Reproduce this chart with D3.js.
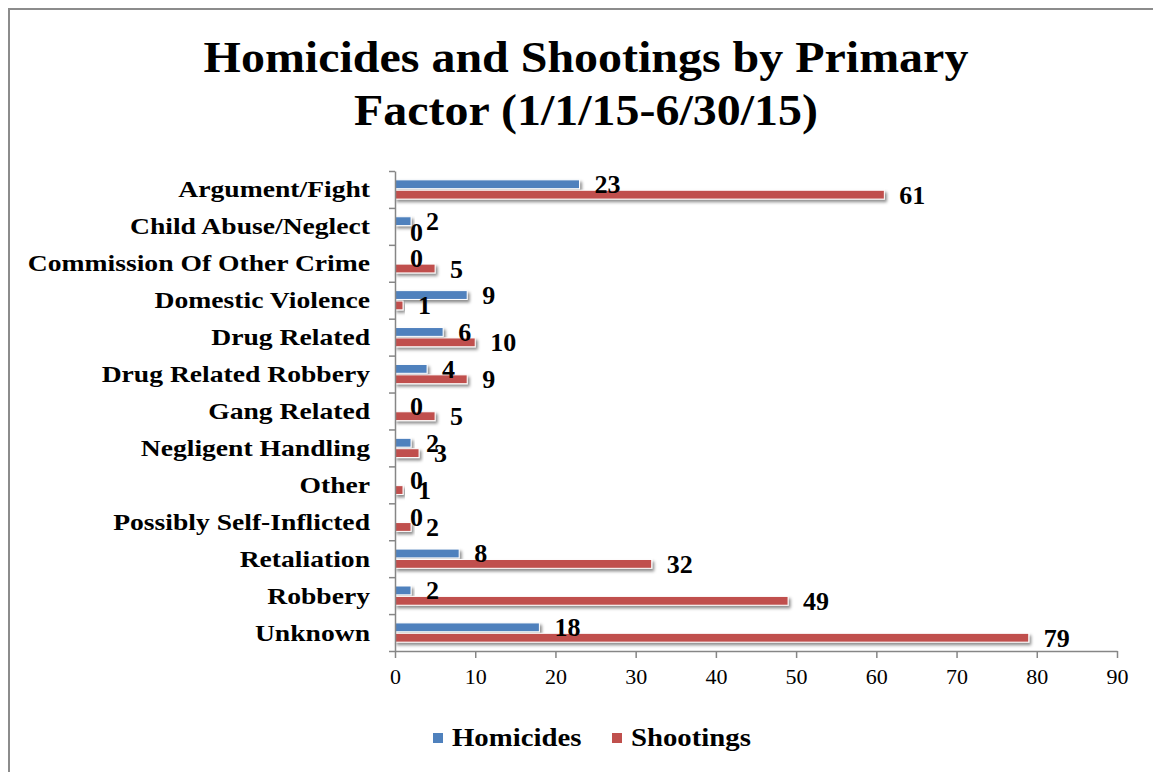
<!DOCTYPE html>
<html>
<head>
<meta charset="utf-8">
<script src="https://cdn.jsdelivr.net/npm/d3@7"></script>
<style>
  body { margin: 0; background: #fff; }
  svg text { font-family: 'Liberation Serif', 'DejaVu Serif', serif; }
</style>
</head>
<body>
<svg width="1153" height="772"></svg>
<script>
const categories = [
    'Argument/Fight', 'Child Abuse/Neglect', 'Commission Of Other Crime',
    'Domestic Violence', 'Drug Related', 'Drug Related Robbery', 'Gang Related',
    'Negligent Handling', 'Other', 'Possibly Self-Inflicted', 'Retaliation',
    'Robbery', 'Unknown'
];
const series = ['Homicides', 'Shootings'];
const homicides = [23, 2, 0, 9, 6, 4, 0, 2, 0, 0, 8, 2, 18];
const shootings = [61, 0, 5, 1, 10, 9, 5, 3, 1, 2, 32, 49, 79];
const xTicks = [0, 10, 20, 30, 40, 50, 60, 70, 80, 90];
const titleLines = ['Homicides and Shootings by Primary', 'Factor (1/1/15-6/30/15)'];

const colorMap = { 'Homicides': '#4F81BD', 'Shootings': '#C0504D' };

const svg = d3.select('svg');
const width = +svg.attr('width');
const height = +svg.attr('height');

// widen the serif a bit so it sits like the Garamond of the original
const stretch = (sel, k) => sel.each(function() {
    const w = this.getComputedTextLength();
    d3.select(this)
        .attr('textLength', w * k)
        .attr('lengthAdjust', 'spacingAndGlyphs');
});

// frame
svg.append('rect')
    .attr('x', 9).attr('y', 9)
    .attr('width', width).attr('height', height)
    .attr('fill', 'none')
    .attr('stroke', '#8c8c8c')
    .attr('stroke-width', 2);

// shadow for bars
const defs = svg.append('defs');
defs.append('filter')
    .attr('id', 'shadow')
    .attr('x', '-10%').attr('y', '-50%')
    .attr('width', '130%').attr('height', '250%')
  .append('feDropShadow')
    .attr('dx', 2).attr('dy', 2.5)
    .attr('stdDeviation', 1.4)
    .attr('flood-color', '#000')
    .attr('flood-opacity', 0.45);

const data = categories.map((c, i) => ({
    category: c,
    values: [
        { key: 'Homicides', value: homicides[i] },
        { key: 'Shootings', value: shootings[i] }
    ]
}));

const plot = { left: 395, right: 1117, top: 171, bottom: 651 };

const x = d3.scaleLinear()
    .domain([0, 90])
    .range([plot.left, plot.right]);

const y = d3.scaleBand()
    .domain(categories)
    .range([plot.top, plot.bottom])
    .padding(0);

const ySub = d3.scaleBand()
    .domain(series)
    .range([0, y.bandwidth()])
    .paddingInner(0.15)
    .paddingOuter(0.85);

// title
svg.append('g').selectAll('text').data(titleLines).enter()
    .append('text')
    .attr('x', 586)
    .attr('y', (d, i) => 72 + i * 53)
    .attr('text-anchor', 'middle')
    .attr('font-size', 44)
    .attr('font-weight', 'bold')
    .text(d => d)
    .call(stretch, 1.09);

// bars
const groups = svg.append('g').selectAll('.cat').data(data).enter()
    .append('g')
    .attr('class', 'cat')
    .attr('transform', d => `translate(0,${y(d.category)})`);

groups.selectAll('rect').data(d => d.values).enter()
    .append('rect')
    .attr('x', x(0))
    .attr('y', d => ySub(d.key))
    .attr('width', d => x(d.value) - x(0))
    .attr('height', ySub.bandwidth())
    .attr('fill', d => colorMap[d.key])
    .attr('stroke', d => d.value > 0 ? '#fff' : 'none')
    .attr('stroke-width', 1)
    .attr('filter', d => d.value > 0 ? 'url(#shadow)' : null);

// value labels
groups.selectAll('.lbl').data(d => d.values).enter()
    .append('text')
    .attr('class', 'lbl')
    .attr('x', d => x(d.value) + 15)
    .attr('y', d => ySub(d.key) + ySub.bandwidth() / 2 + 9)
    .attr('font-size', 26)
    .attr('font-weight', 'bold')
    .text(d => d.value);

// y axis with boundary ticks
const yEdge = d3.scaleLinear()
    .domain([0, categories.length])
    .range([plot.top, plot.bottom]);

const axisYG = svg.append('g')
    .attr('transform', `translate(${plot.left},0)`)
    .call(d3.axisLeft(yEdge)
        .tickValues(d3.range(categories.length + 1))
        .tickFormat('')
        .tickSize(6)
        .tickSizeOuter(0));

// category labels
svg.append('g').selectAll('text').data(categories).enter()
    .append('text')
    .attr('x', 370)
    .attr('y', d => y(d) + y.bandwidth() / 2 + 8)
    .attr('text-anchor', 'end')
    .attr('font-size', 24)
    .attr('font-weight', 'bold')
    .text(d => d)
    .call(stretch, 1.15);

// x axis
const axisXG = svg.append('g')
    .attr('transform', `translate(0,${plot.bottom})`)
    .call(d3.axisBottom(x)
        .tickValues(xTicks)
        .tickSize(7)
        .tickSizeOuter(0)
        .tickPadding(10));

axisXG.selectAll('text')
    .attr('font-size', 22)
    .attr('font-family', 'Liberation Serif')
    .attr('fill', '#000');

[axisXG, axisYG].forEach(a => {
    a.select('.domain').attr('stroke', '#868686').attr('stroke-width', 1.5);
    a.selectAll('.tick line').attr('stroke', '#868686').attr('stroke-width', 1.5);
});

// legend
const legend = svg.append('g').selectAll('g').data(series).enter()
    .append('g')
    .attr('transform', (d, i) => `translate(${[433, 612][i]},733)`);

legend.append('rect')
    .attr('width', 10).attr('height', 10)
    .attr('fill', d => colorMap[d]);

legend.append('text')
    .attr('x', 19)
    .attr('y', 13)
    .attr('font-size', 25)
    .attr('font-weight', 'bold')
    .text(d => d)
    .call(stretch, 1.15);
</script>
</body>
</html>
